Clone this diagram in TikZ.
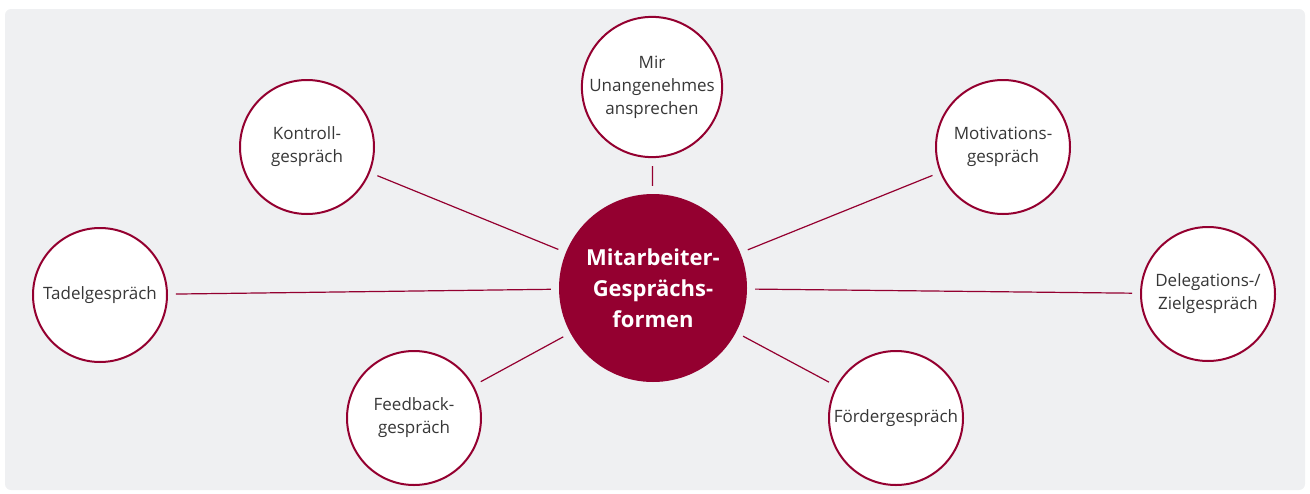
\documentclass[tikz,border=0pt]{standalone}
\usepackage{fontspec}
\setmainfont{Open Sans}
\usepackage{tikz}
\definecolor{wine}{RGB}{148,0,48}
\definecolor{panel}{RGB}{239,240,242}
\definecolor{ink}{RGB}{55,55,55}
\tikzset{spoke/.style={draw=wine, line width=1.2pt, shorten <=8pt, shorten >=8pt}}
\tikzset{form/.style={circle, draw=wine, line width=2pt, fill=white, minimum size=134pt, inner sep=0pt, align=center, text=ink, font=\fontsize{17}{23}\selectfont}}
\tikzset{hub/.style={circle, fill=wine, minimum size=188pt, inner sep=0pt, align=center, text=white, font=\fontsize{22}{31}\selectfont\bfseries}}

\begin{document}
\begin{tikzpicture}[x=1pt, y=-1pt]
\useasboundingbox (0,0) rectangle (1310,493);
\fill[panel, rounded corners=6pt] (5,9) rectangle (1305,490);
\node[hub] (hub) at (653,288) {Mitarbeiter-\\Gesprächs-\\formen};
\node[form] (mir) at (652,87) {Mir\\Unangenehmes\\ansprechen};
\node[form] (kontroll) at (307,147) {Kontroll-\\gespräch};
\node[form] (motiv) at (1003,147) {Motivations-\\gespräch};
\node[form] (tadel) at (100,295) {Tadelgespräch};
\node[form] (deleg) at (1208,294) {Delegations-/\\Zielgespräch};
\node[form] (feedback) at (414,418) {Feedback-\\gespräch};
\node[form] (foerder) at (896,418) {Fördergespräch};
\draw[spoke] (mir) -- (hub);
\draw[spoke] (kontroll) -- (hub);
\draw[spoke] (motiv) -- (hub);
\draw[spoke] (tadel) -- (hub);
\draw[spoke] (deleg) -- (hub);
\draw[spoke] (feedback) -- (hub);
\draw[spoke] (foerder) -- (hub);
\end{tikzpicture}
\end{document}
